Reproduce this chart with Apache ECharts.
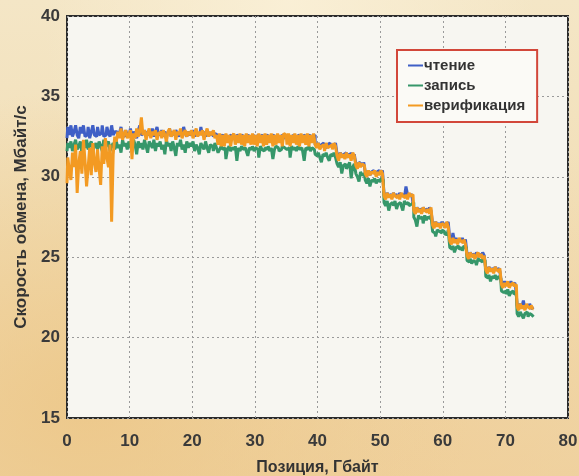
<!DOCTYPE html>
<html>
<head>
<meta charset="utf-8">
<script src="https://cdn.jsdelivr.net/npm/echarts@6/dist/echarts.min.js"></script>
<style>
html,body{margin:0;padding:0;}
body{width:579px;height:476px;overflow:hidden;
background:
radial-gradient(ellipse at 15% 85%, rgba(236,196,130,0.75) 0%, rgba(236,196,130,0) 55%),
radial-gradient(ellipse at 80% 95%, rgba(240,205,150,0.6) 0%, rgba(240,205,150,0) 50%),
radial-gradient(ellipse at 50% 0%, rgba(250,240,215,0.9) 0%, rgba(250,240,215,0) 60%),
linear-gradient(180deg,#f4e6c6 0%,#f1dcb2 60%,#efd4a4 100%);}
#chart{width:579px;height:476px;}
</style>
</head>
<body>
<div id="chart"></div>
<script>
// Position step between samples, GB
const POS_STEP = 0.25;
const seriesNames = ['чтение', 'запись', 'верификация'];
const xTicks = [0, 10, 20, 30, 40, 50, 60, 70, 80];
const yTicks = [15, 20, 25, 30, 35, 40];

// Read speed, MB/s
const readValues = [
32.4,33.1,32.6,33.2,32.5,32.8,33.2,32.6,32.4,33.1,32.7,33.2,32.5,32.6,33.1,32.4,32.8,33.2,32.6,32.5,
33.1,32.6,32.7,33.2,32.5,32.6,33.1,32.7,32.5,33.2,32.6,32.8,32.8,32.5,32.7,33.1,32.6,32.5,32.9,32.6,
32.7,33.0,32.5,32.8,32.6,32.4,32.9,33.2,32.6,32.7,32.9,32.5,32.8,32.6,32.7,33.0,32.5,32.8,33.1,32.6,
32.7,32.9,32.5,32.8,32.6,32.7,33.0,32.5,32.8,32.6,32.9,32.7,32.5,32.8,32.6,33.1,32.7,32.5,32.8,32.6,
32.7,32.9,32.5,32.8,32.6,32.7,33.1,32.6,32.8,32.5,32.9,32.7,32.6,32.8,32.5,32.7,32.6,32.4,32.5,32.6,
32.5,32.4,32.6,32.3,32.5,32.6,32.4,32.5,32.3,32.6,32.5,32.4,32.6,32.5,32.3,32.5,32.6,32.4,32.5,32.6,
32.4,32.5,32.6,32.3,32.5,32.6,32.4,32.5,32.6,32.3,32.5,32.4,32.6,32.5,32.4,32.6,32.3,32.5,32.6,32.4,
32.5,32.6,32.4,32.5,32.3,32.6,32.5,32.4,32.6,32.5,32.3,32.5,32.6,32.4,32.5,32.6,32.4,32.5,32.6,32.0,
31.9,32.1,31.8,32.0,32.1,31.9,31.8,32.0,32.1,31.9,32.0,31.8,32.1,31.4,31.2,31.5,31.3,31.4,31.5,31.2,
31.4,31.3,31.5,31.2,31.4,30.8,30.7,30.9,30.8,30.7,30.9,30.3,30.2,30.4,30.1,30.3,30.4,30.2,30.3,30.4,
30.3,30.2,30.4,28.9,28.7,29.0,28.8,28.9,28.7,29.0,28.8,28.9,28.7,29.0,28.8,28.9,28.7,29.4,28.9,28.8,
28.9,28.7,28.0,27.8,28.1,27.9,28.0,27.8,28.1,27.9,28.0,27.8,28.1,27.9,27.1,26.9,27.2,27.0,27.1,26.9,
27.2,27.0,27.1,26.9,27.2,26.1,25.9,26.5,26.0,26.2,25.9,26.1,26.0,26.2,25.9,26.1,25.2,25.0,25.3,25.1,
25.2,25.0,25.3,25.1,25.2,25.0,25.3,25.1,24.3,24.1,24.4,24.2,24.3,24.1,24.4,24.2,24.3,24.1,23.4,23.2,
23.5,23.3,23.4,23.2,23.5,23.3,23.4,23.2,22.0,21.8,22.1,21.9,22.3,21.8,22.0,21.9,22.1,21.8,21.9
];

// Write speed, MB/s
const writeValues = [
31.6,32.1,31.8,32.2,31.6,32.0,32.3,31.7,31.9,32.2,31.5,32.1,31.8,32.3,31.7,32.0,32.2,31.6,31.9,32.1,
31.7,32.2,31.9,31.6,32.3,31.8,32.0,32.2,31.6,31.9,32.1,31.7,32.2,31.8,32.0,31.5,32.3,31.9,32.1,31.7,
32.2,31.9,31.6,32.3,32.0,31.4,32.2,31.8,32.1,31.7,32.3,31.9,31.5,32.2,32.0,31.8,32.3,31.6,32.1,31.9,
32.2,31.7,32.0,31.4,32.3,31.9,32.1,31.6,32.2,31.8,31.3,32.1,31.9,32.3,31.7,32.0,31.5,32.2,31.8,32.1,
31.9,32.2,31.6,32.0,31.8,31.4,32.1,31.9,31.7,32.2,31.8,31.5,32.0,31.9,31.6,32.1,31.8,31.5,31.7,31.9,
31.7,31.8,31.1,31.7,31.9,31.6,31.8,31.7,31.9,31.0,31.8,31.6,31.9,31.7,31.8,31.6,31.3,31.8,31.7,31.9,
31.6,31.8,31.7,31.2,31.9,31.7,31.6,31.8,31.7,31.9,31.6,31.8,31.1,31.7,31.9,31.8,31.6,31.7,31.9,31.8,
31.7,31.6,31.8,31.2,31.9,31.7,31.8,31.6,31.9,31.7,31.8,31.6,31.0,31.8,31.7,31.9,31.6,31.8,31.7,31.4,
31.3,31.5,31.2,30.9,31.4,31.3,31.5,31.2,31.0,31.4,31.3,31.5,31.2,30.8,30.6,30.9,30.2,30.7,30.8,30.5,
30.7,30.9,29.9,30.6,30.8,30.2,30.0,29.7,30.3,30.1,30.2,29.8,29.6,29.9,29.4,29.8,29.7,29.9,29.6,29.8,
29.7,29.9,29.8,28.4,28.2,28.5,27.9,28.3,28.4,28.2,28.5,28.0,28.3,28.4,28.2,27.9,28.5,28.3,28.4,28.2,
28.3,28.4,27.5,27.3,26.9,27.6,27.4,27.5,27.1,27.6,27.3,27.5,27.4,27.6,26.6,26.5,26.3,26.7,26.6,26.5,
26.7,26.6,26.4,26.5,26.7,25.6,25.5,25.7,25.3,25.6,25.7,25.5,25.6,25.4,25.7,25.6,24.8,24.7,24.9,24.6,
24.8,24.7,24.5,24.9,24.8,24.7,24.9,24.8,23.8,23.7,23.9,23.5,23.8,23.7,23.9,23.6,23.8,23.7,22.9,22.8,
22.9,22.7,23.0,22.6,22.8,22.9,22.7,22.8,21.5,21.3,21.6,21.4,21.2,21.5,21.6,21.3,21.5,21.4,21.3
];

// Verification speed, MB/s
const verifyValues = [
29.6,31.2,30.4,29.8,31.5,30.6,32.0,29.0,30.8,31.6,30.2,32.3,31.0,29.4,30.6,31.8,30.1,32.1,30.9,30.3,
31.7,30.5,29.5,31.9,30.8,32.4,31.2,30.6,32.0,27.2,31.4,32.5,32.2,32.8,32.4,33.0,32.3,32.7,32.9,32.4,
32.6,32.9,31.1,32.7,32.4,33.0,32.5,32.8,33.7,32.6,32.9,32.3,32.7,33.0,32.4,32.8,32.6,32.9,32.3,32.7,
32.8,32.4,32.9,32.6,32.2,32.8,33.0,32.5,32.7,32.9,32.3,32.8,32.6,33.0,32.4,32.7,32.9,32.5,32.8,32.6,
32.9,32.4,32.7,33.0,32.5,32.8,32.6,32.9,32.3,32.7,33.0,32.5,32.8,32.6,32.9,32.4,32.6,32.0,32.7,31.9,
32.6,31.9,32.7,32.1,32.6,31.9,32.5,32.7,32.0,32.6,32.1,32.7,32.0,32.6,31.9,32.7,32.1,32.6,32.0,32.7,
32.0,32.6,31.9,32.7,32.1,32.6,31.9,32.7,32.0,32.6,32.1,32.7,31.9,32.6,32.0,32.7,32.1,32.6,31.9,32.7,
32.6,32.0,32.7,31.9,32.6,32.1,32.7,32.0,32.6,31.9,32.7,32.1,32.6,32.0,32.7,31.9,32.6,32.1,32.7,32.0,
31.8,32.1,31.7,31.9,32.0,31.6,32.1,31.8,31.9,32.0,31.7,32.1,31.9,31.3,31.0,31.5,31.2,31.4,31.1,31.5,
31.2,31.4,31.0,31.5,31.3,30.7,30.5,30.9,30.6,30.8,30.7,30.2,30.0,30.4,30.1,30.3,30.2,30.4,30.0,30.3,
30.1,30.4,30.2,28.8,28.6,29.0,28.7,28.9,28.6,29.0,28.8,28.7,28.9,28.6,29.0,28.8,28.7,28.9,28.6,29.0,
28.8,28.9,27.9,27.7,28.1,27.8,28.0,27.7,28.1,27.9,27.8,28.0,27.7,28.1,27.0,26.8,27.2,26.9,27.1,26.8,
27.1,27.0,26.8,27.2,26.9,26.0,25.8,26.2,25.9,26.1,25.8,26.2,26.0,25.9,26.1,25.8,25.1,24.9,25.3,25.0,
25.2,24.9,25.1,25.3,25.0,25.2,24.9,25.1,24.2,24.0,24.4,24.1,24.3,24.0,24.4,24.2,24.1,24.3,23.3,23.1,
23.4,23.2,23.5,23.1,23.3,23.4,23.2,23.3,21.9,21.7,22.1,21.8,22.0,21.7,22.1,21.9,21.8,22.0,21.8
];

const colors = ['#3f5fc6', '#36976a', '#f39a22'];
const FONT = "'Liberation Sans', Arial, sans-serif";

function toPairs(vals) {
  return vals.map((v, i) => [i * POS_STEP, v]);
}
const allValues = [readValues, writeValues, verifyValues];

const chart = echarts.init(document.getElementById('chart'), null, {renderer: 'canvas'});
chart.setOption({
  animation: false,
  backgroundColor: 'transparent',
  textStyle: {fontFamily: FONT},
  grid: {
    left: 67, right: 11, top: 16, bottom: 58,
    containLabel: false,
    outerBoundsMode: 'none',
    show: true,
    backgroundColor: '#f7f6f1',
    borderColor: '#2b2b2b',
    borderWidth: 2
  },
  legend: {
    orient: 'vertical',
    left: 397, top: 50,
    padding: [7, 12, 8, 11],
    backgroundColor: '#fbfaf6',
    borderColor: '#d2473a',
    borderWidth: 2,
    itemGap: 3,
    itemWidth: 15,
    itemHeight: 2,
    icon: 'rect',
    data: seriesNames,
    textStyle: {fontFamily: FONT, fontWeight: 'bold', fontSize: 15, color: '#333', padding: [0, 0, 0, -4], lineHeight: 17}
  },
  xAxis: {
    type: 'value', min: xTicks[0], max: xTicks[xTicks.length - 1], interval: 10,
    name: 'Позиция, Гбайт', nameLocation: 'middle', nameGap: 42,
    nameTextStyle: {fontFamily: FONT, fontWeight: 'bold', fontSize: 16, color: '#333'},
    axisLine: {show: false}, axisTick: {show: false},
    axisLabel: {margin: 15, fontFamily: FONT, fontWeight: 'bold', fontSize: 17, color: '#3a3a3a'},
    splitLine: {show: true, lineStyle: {type: [2, 3], color: '#9a9a9a', width: 1}}
  },
  yAxis: {
    type: 'value', min: yTicks[0], max: yTicks[yTicks.length - 1], interval: 5,
    name: 'Скорость обмена, Мбайт/с', nameLocation: 'middle', nameGap: 37,
    nameTextStyle: {fontFamily: FONT, fontWeight: 'bold', fontSize: 17, color: '#333'},
    axisLine: {show: false}, axisTick: {show: false},
    axisLabel: {margin: 7, fontFamily: FONT, fontWeight: 'bold', fontSize: 17, color: '#3a3a3a'},
    splitLine: {show: true, lineStyle: {type: [2, 3], color: '#9a9a9a', width: 1}}
  },
  series: seriesNames.map((name, k) => ({
    name: name,
    type: 'line',
    step: 'middle',
    data: toPairs(allValues[k]),
    showSymbol: false,
    symbol: 'none',
    sampling: null,
    color: colors[k],
    lineStyle: {width: 3, color: colors[k]},
    emphasis: {disabled: true}
  }))
});
</script>
</body>
</html>
